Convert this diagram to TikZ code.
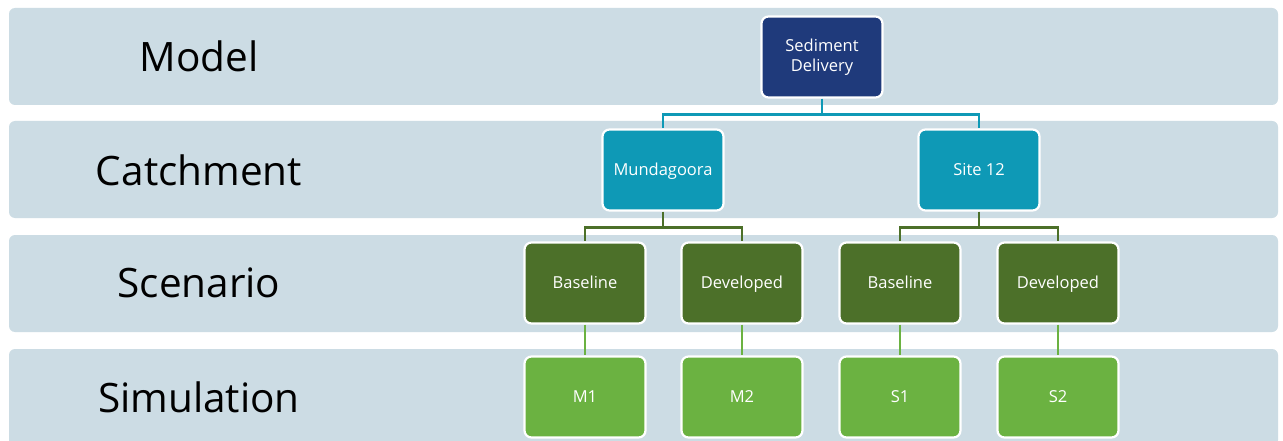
\documentclass[tikz,border=0pt]{standalone}
\usepackage{fontspec}
\setmainfont{Open Sans}
\definecolor{band}{HTML}{CCDCE4}
\definecolor{navy}{HTML}{1F3A7B}
\definecolor{teal}{HTML}{0E99B6}
\definecolor{dgreen}{HTML}{4C7029}
\definecolor{lgreen}{HTML}{6BB241}
\newcommand{\boxstrut}{\rule[-4.5pt]{0pt}{20pt}}
\begin{document}
\begin{tikzpicture}[x=1pt,y=-1pt,
  bandbox/.style={fill=band,rounded corners=6pt},
  lvl/.style={font=\fontsize{40.5}{48}\selectfont,text=black},
  box/.style={draw=white,line width=2.2pt,rounded corners=7pt,minimum width=121pt,minimum height=81pt,text=white,font=\fontsize{16.5}{20}\selectfont,align=center,inner sep=0pt,execute at begin node=\boxstrut},
  navybox/.style={box,fill=navy},
  tealbox/.style={box,fill=teal},
  dgbox/.style={box,fill=dgreen},
  lgbox/.style={box,fill=lgreen},
  conn/.style={line width=2.4pt}]
\useasboundingbox (0,0) rectangle (1283,441);
\fill[white] (0,0) rectangle (1283,441);
\fill[bandbox] (9,8) rectangle (1278,105);
\fill[bandbox] (9,121) rectangle (1278,218);
\fill[bandbox] (9,235) rectangle (1278,332);
\fill[bandbox] (9,349) rectangle (1278,446);
\node[lvl] (lmodel) at (199,56) {Model};
\node[lvl] (lcatch) at (199,170) {Catchment};
\node[lvl] (lscen) at (199,283) {Scenario};
\node[lvl] (lsim) at (199,397) {Simulation};
\node[navybox] (sed) at (822,57) {Sediment\\Delivery};
\node[tealbox] (mun) at (663,170) {Mundagoora};
\node[tealbox] (site) at (979,170) {Site 12};
\node[dgbox] (mb) at (585,283) {Baseline};
\node[dgbox] (md) at (742,283) {Developed};
\node[dgbox] (sb) at (900,283) {Baseline};
\node[dgbox] (sd) at (1058,283) {Developed};
\node[lgbox] (m1) at (585,397) {M1};
\node[lgbox] (m2) at (742,397) {M2};
\node[lgbox] (s1) at (900,397) {S1};
\node[lgbox] (s2) at (1058,397) {S2};
\draw[conn,teal] (sed.south) -- ++(0,16) -| (mun.north);
\draw[conn,teal] (sed.south) ++(0,16) -| (site.north);
\draw[conn,dgreen] (mun.south) -- ++(0,16) -| (mb.north);
\draw[conn,dgreen] (mun.south) ++(0,16) -| (md.north);
\draw[conn,dgreen] (site.south) -- ++(0,16) -| (sb.north);
\draw[conn,dgreen] (site.south) ++(0,16) -| (sd.north);
\draw[conn,lgreen] (mb.south) -- (m1.north);
\draw[conn,lgreen] (md.south) -- (m2.north);
\draw[conn,lgreen] (sb.south) -- (s1.north);
\draw[conn,lgreen] (sd.south) -- (s2.north);
\end{tikzpicture}
\end{document}
